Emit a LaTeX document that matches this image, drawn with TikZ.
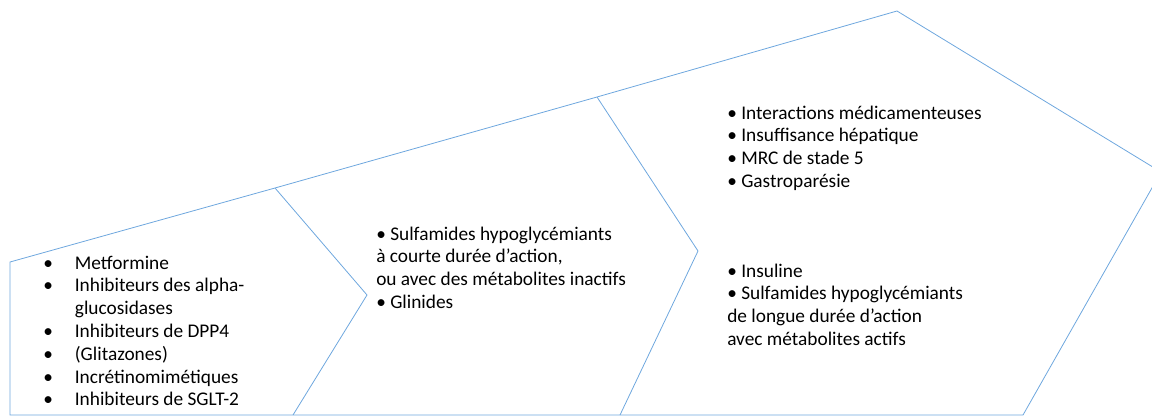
\documentclass[tikz,border=0pt]{standalone}
\usepackage{fontspec}
\setmainfont{Carlito}
\definecolor{chevline}{RGB}{110,167,222}
\tikzset{
  outline/.style={draw=chevline, line width=0.6pt, line join=miter},
  listtext/.style={anchor=base west, inner sep=0pt,
    font=\fontsize{14.5}{17.1}\selectfont},
}

\begin{document}
\begin{tikzpicture}[x=0.75pt,y=-0.75pt]
\useasboundingbox (0,0) rectangle (1152,418);
\clip (0,0) rectangle (1152,418);
% corners of the three chevrons
\coordinate (tl) at (10,262);
\coordinate (bl) at (10,415);
\coordinate (s1) at (275,188);
\coordinate (p1) at (367,295);
\coordinate (b1) at (293,415);
\coordinate (s2) at (597,97);
\coordinate (p2) at (698,251);
\coordinate (b2) at (620,415);
\coordinate (apex) at (897,11);
\coordinate (tip) at (1161,172);
\coordinate (br) at (1023,415);
\draw [outline] (bl) -- (tl) -- (s1) -- (s2) -- (apex) -- (tip) -- (br) -- cycle;
\draw [outline] (s1) -- (p1) -- (b1);
\draw [outline] (s2) -- (p2) -- (b2);
% texts
\node [listtext] (firstline) at (43,269) {\begin{tabular}[t]{@{}l@{\hspace{16.5pt}}l@{}}
\textbullet & Metformine\\
\textbullet & Inhibiteurs des alpha-\\
 & glucosidases\\
\textbullet & Inhibiteurs de DPP4\\
\textbullet & (Glitazones)\\
\textbullet & Incrétinomimétiques\\
\textbullet & Inhibiteurs de SGLT-2
\end{tabular}};
\node [listtext] (secondline) at (376,240) {\begin{tabular}[t]{@{}l@{}}
\textbullet{} Sulfamides hypoglycémiants\\
à courte durée d’action,\\
ou avec des métabolites inactifs\\
\textbullet{} Glinides
\end{tabular}};
\node [listtext] (cautions) at (727,119) {\begin{tabular}[t]{@{}l@{}}
\textbullet{} Interactions médicamenteuses\\
\textbullet{} Insuffisance hépatique\\
\textbullet{} MRC de stade 5\\
\textbullet{} Gastroparésie
\end{tabular}};
\node [listtext] (thirdline) at (727,277) {\begin{tabular}[t]{@{}l@{}}
\textbullet{} Insuline\\
\textbullet{} Sulfamides hypoglycémiants\\
de longue durée d’action\\
avec métabolites actifs
\end{tabular}};
\end{tikzpicture}
\end{document}
